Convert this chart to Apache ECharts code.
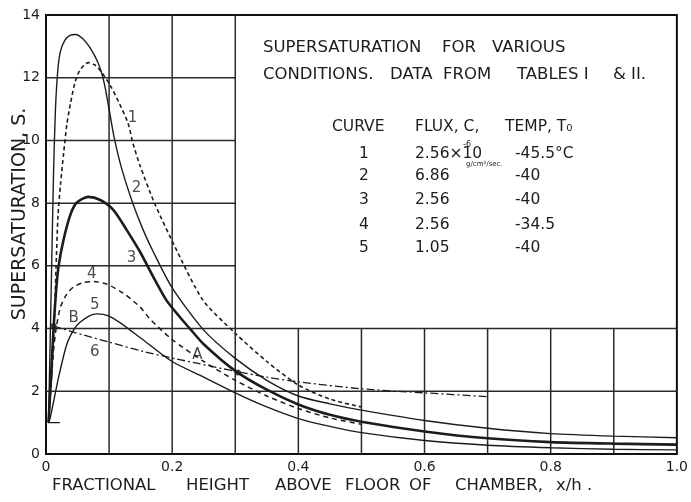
<!DOCTYPE html>
<html><head><meta charset="utf-8">
<script src="https://cdn.jsdelivr.net/npm/echarts@6.0.0/dist/echarts.min.js"></script>
<style>html,body{margin:0;padding:0;background:#fff}#c{width:691px;height:502px}</style>
</head><body><div id="c"></div>
<script>
// ---- data ----
const curve1 = [[0.004,1.0],[0.009,2.5],[0.013,4.2],[0.016,6.0],[0.019,7.6],[0.023,8.6],[0.028,9.6],[0.033,10.5],[0.039,11.2],[0.046,11.85],[0.054,12.25],[0.067,12.48],[0.078,12.4],[0.089,12.15],[0.102,11.75],[0.117,11.15],[0.13,10.55],[0.138,9.9],[0.149,9.2],[0.172,8.0],[0.207,6.5],[0.249,4.9],[0.3,3.85],[0.35,2.95],[0.4,2.2],[0.45,1.75],[0.5,1.5]];
const curve2 = [[0.004,1.0],[0.006,3.0],[0.009,6.0],[0.012,9.0],[0.015,11.0],[0.019,12.3],[0.023,12.85],[0.03,13.2],[0.038,13.35],[0.047,13.38],[0.058,13.25],[0.07,12.95],[0.083,12.45],[0.092,11.85],[0.1,11.0],[0.108,10.1],[0.12,9.1],[0.138,7.97],[0.155,7.1],[0.17,6.45],[0.2,5.3],[0.25,3.95],[0.3,3.05],[0.35,2.35],[0.4,1.85],[0.45,1.6],[0.5,1.4],[0.6,1.07],[0.7,0.82],[0.8,0.65],[0.9,0.57],[1.0,0.52]];
const curve3 = [[0.004,1.0],[0.008,2.5],[0.012,4.0],[0.016,5.2],[0.02,6.0],[0.028,6.85],[0.039,7.65],[0.049,8.02],[0.067,8.2],[0.086,8.1],[0.107,7.78],[0.128,7.14],[0.149,6.45],[0.17,5.65],[0.191,4.9],[0.212,4.37],[0.228,4.0],[0.25,3.5],[0.3,2.65],[0.35,2.05],[0.4,1.58],[0.45,1.25],[0.5,1.03],[0.6,0.72],[0.7,0.5],[0.8,0.38],[0.9,0.33],[1.0,0.3]];
const curve4 = [[0.004,1.0],[0.008,2.2],[0.012,3.3],[0.016,4.0],[0.023,4.69],[0.033,5.1],[0.044,5.33],[0.06,5.47],[0.075,5.5],[0.096,5.42],[0.123,5.12],[0.149,4.69],[0.165,4.3],[0.2,3.65],[0.25,2.95],[0.3,2.35],[0.35,1.85],[0.4,1.45],[0.45,1.15],[0.5,0.95]];
const curve5 = [[0.004,1.0],[0.007,1.18],[0.02,2.45],[0.033,3.5],[0.045,4.0],[0.054,4.2],[0.068,4.4],[0.081,4.47],[0.1,4.4],[0.12,4.15],[0.15,3.7],[0.2,2.95],[0.25,2.45],[0.3,1.95],[0.35,1.5],[0.4,1.13],[0.45,0.88],[0.5,0.68],[0.6,0.43],[0.7,0.28],[0.8,0.2],[0.9,0.15],[1.0,0.13]];
const curve6 = [[0.012,4.08],[0.06,3.79],[0.1,3.57],[0.154,3.27],[0.207,3.03],[0.243,2.88],[0.28,2.72],[0.3,2.64],[0.35,2.45],[0.4,2.3],[0.5,2.08],[0.6,1.95],[0.7,1.83]];
const startTick = [[0.003,1.0],[0.022,1.0]];
const dots = [[0.012,4.08],[0.304,2.6]];
const curveLabels = [['1',0.137,10.71],['2',0.1435,8.48],['3',0.1356,6.25],['4',0.0726,5.74],['5',0.0773,4.75],['6',0.0773,3.25],['B',0.044,4.34],['A',0.24,3.16]];
// grid segments: [fixed value, from, to]
const vLines = [[0.1,0,14],[0.2,0,14],[0.3,0,14],[0.4,0,4],[0.5,0,4],[0.6,0,4],[0.7,0,4],[0.8,0,4],[0.9,0,4]];
const hLines = [[2,0,1],[4,0,1],[6,0,0.3],[8,0,0.3],[10,0,0.3],[12,0,0.3]];
const tableHead = ['CURVE','FLUX, C,','TEMP, T\u2080'];
const tableCurve = ['1','2','3','4','5'];
const tableFlux = ['2.56\u00d710','6.86','2.56','2.56','1.05'];
const tableTemp = ['-45.5\u00b0C','-40','-40','-34.5','-40'];

const INK = '#1c1c1c';
const F = '"DejaVu Sans", sans-serif';
const series = [];
vLines.forEach(v => series.push({type:'line', data:[[v[0],v[1]],[v[0],v[2]]], symbol:'none', silent:true, z:1, lineStyle:{color:'#2a2a2a', width:1.5}}));
hLines.forEach(h => series.push({type:'line', data:[[h[1],h[0]],[h[2],h[0]]], symbol:'none', silent:true, z:1, lineStyle:{color:'#2a2a2a', width:1.5}}));
function curve(d, w, type){ return {type:'line', data:d, symbol:'none', smooth:0.25, z:3, silent:true, lineStyle:{color:INK, width:w, type:type}}; }
series.push(curve(curve1, 1.6, [4,3]));
series.push(curve(curve2, 1.4, 'solid'));
series.push(curve(curve3, 2.6, 'solid'));
series.push(curve(curve4, 1.5, [5,4]));
series.push(curve(curve5, 1.4, 'solid'));
series.push(curve(curve6, 1.3, [8,3,2,3]));
series.push({type:'line', data:startTick, symbol:'none', z:3, lineStyle:{color:INK, width:1.2}});
series.push({type:'scatter', data:dots, symbolSize:6, z:4, itemStyle:{color:INK}});
series.push({type:'scatter', data:curveLabels.map(l => ({name:l[0], value:[l[1],l[2]]})), symbolSize:1, z:5,
  itemStyle:{color:'rgba(0,0,0,0)'},
  label:{show:true, position:'inside', formatter:p => p.name, color:INK, fontSize:15, fontFamily:F}});

const graphic = [];
function txt(t, x, y, size, extra){ graphic.push(Object.assign({type:'text', left:x, top:y, silent:true, style:{text:t, font:size+'px '+F, fill:INK}}, extra||{})); }
// title block
txt('SUPERSATURATION', 263, 39, 16.5);
txt('FOR', 442, 39, 16.5);
txt('VARIOUS', 492, 39, 16.5);
txt('CONDITIONS.', 263, 66, 16.5);
txt('DATA', 390, 66, 16.5);
txt('FROM', 443, 66, 16.5);
txt('TABLES I', 517, 66, 16.5);
txt('& II.', 613, 66, 16.5);
txt(tableHead[0], 332, 119, 15.5);
txt(tableHead[1], 415, 119, 15.5);
txt(tableHead[2], 505, 119, 15.5);
const rowY = [146, 168, 192, 217, 240];
rowY.forEach((y,i) => {
  txt(tableCurve[i], 359, y, 15.5);
  txt(tableFlux[i], 415, y, 15.5);
  txt(tableTemp[i], 515, y, 15.5);
});
txt('-6', 463, 141, 8);
txt('g/cm\u00b2/sec.', 466, 161, 7);
// axis titles
graphic.push({type:'text', x:20, y:214, rotation:Math.PI/2, silent:true, style:{text:'SUPERSATURATION, S.', font:'19px '+F, fill:INK, textAlign:'center', textVerticalAlign:'middle'}});
const xTitle = [['FRACTIONAL',52],['HEIGHT',186],['ABOVE',275],['FLOOR',345],['OF',409],['CHAMBER,',455],['x/h .',556]];
xTitle.forEach(w => txt(w[0], w[1], 477, 16.5));

const chart = echarts.init(document.getElementById('c'), null, {renderer:'canvas'});
chart.setOption({
  animation:false,
  backgroundColor:'#fff',
  grid:{left:46, right:11, top:15, bottom:48, show:true, borderColor:'#111', borderWidth:2, backgroundColor:'transparent'},
  xAxis:{type:'value', min:0, max:1, interval:0.2,
    axisLine:{show:false}, axisTick:{show:false}, splitLine:{show:false},
    axisLabel:{color:INK, fontSize:14, fontFamily:F, margin:6, formatter:v => v===0?'0':v.toFixed(1)}},
  yAxis:{type:'value', min:0, max:14, interval:2,
    axisLabel:{color:INK, fontSize:14, fontFamily:F, margin:6}, axisLine:{show:false}, axisTick:{show:false}, splitLine:{show:false}},
  series:series,
  graphic:graphic
});
</script></body></html>
